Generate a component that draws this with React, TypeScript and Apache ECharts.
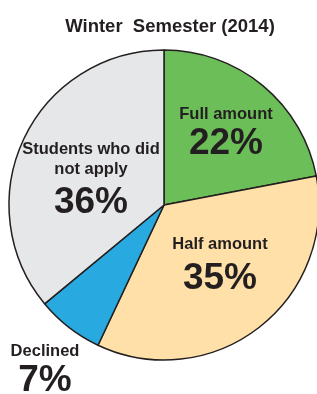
import React, { useEffect, useRef } from "react";
import * as echarts from "echarts";

const categories = ["Full amount", "Half amount", "Declined", "Students who did\nnot apply"];
const values = [22, 35, 7, 36];
const colors = ["#6cbe59", "#fee0a8", "#28a9e0", "#e6e7e9"];
const title = "Winter  Semester (2014)";

// label placement (layout only)
const labelPos = [
  { x: 226, y: 131, vh: 36 },
  { x: 220, y: 266, vh: 46 },
  { x: 45, y: 368, vh: 36 },
  { x: 91, y: 180, vh: 44 },
];

const FONT = "'Liberation Sans', Arial, Helvetica, sans-serif";
const TXT = "#231f20";

export default function App() {
  const ref = useRef<HTMLDivElement>(null);
  useEffect(() => {
    if (!ref.current) return;
    const chart = echarts.init(ref.current, undefined, { renderer: "svg" });
    chart.setOption({
      animation: false,
      title: {
        text: title,
        left: 165,
        textAlign: "center",
        top: 11,
        textStyle: { fontFamily: FONT, fontSize: 18.5, fontWeight: "bold", color: TXT },
      },
      series: [
        {
          type: "pie",
          center: [164, 205],
          radius: 155,
          startAngle: 90,
          clockwise: true,
          silent: true,
          itemStyle: { borderColor: TXT, borderWidth: 1.5 },
          labelLine: { show: false },
          data: categories.map((name, i) => ({
            name,
            value: values[i],
            itemStyle: { color: colors[i] },
            label: {
              show: true,
              position: "inside",
              formatter: `{n|${name.split("\n").join("}\n{n|")}}\n{v|${values[i]}%}`,
              rich: {
                n: { fontFamily: FONT, fontSize: 16.5, fontWeight: "bold", color: TXT, lineHeight: 20, align: "center" },
                v: { fontFamily: FONT, fontSize: 37, fontWeight: "bold", color: TXT, lineHeight: labelPos[i].vh, align: "center" },
              },
            },
          })),
          labelLayout: (p: any) => ({
            x: labelPos[p.dataIndex].x,
            y: labelPos[p.dataIndex].y,
            align: "center",
            verticalAlign: "middle",
          }),
        },
      ],
    });
    return () => chart.dispose();
  }, []);
  return <div ref={ref} style={{ position: "fixed", left: 0, top: 0, width: 317, height: 394 }} />;
}
